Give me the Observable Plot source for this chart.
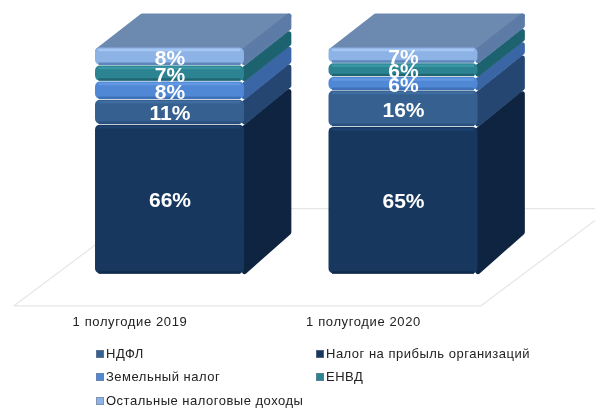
<!DOCTYPE html>
<html><head><meta charset="utf-8">
<script src="https://cdn.jsdelivr.net/npm/d3@7"></script>
<script src="https://cdn.jsdelivr.net/npm/@observablehq/plot@0.6"></script>
<style>
html,body{margin:0;padding:0;background:#fff;overflow:hidden}
body{width:595px;height:408px;font-family:"Liberation Sans",Arial,sans-serif}
#chart svg{display:block;filter:blur(.45px)}
#chart [aria-label="x-axis tick label"] text{letter-spacing:.62px}
#legend{position:relative;height:73px;font-size:13px;letter-spacing:.5px;color:#222;filter:blur(.25px)}
.it{position:absolute;white-space:nowrap;line-height:15px}
.sw{display:inline-block;width:8px;height:8px;margin-right:2px;vertical-align:0;box-sizing:border-box;border:1px solid rgba(120,130,150,.6)}
</style></head><body>
<div id="chart"></div><div id="legend"></div>
<script>
const categories = ["1 полугодие 2019", "1 полугодие 2020"];
const seriesNames = ["Налог на прибыль организаций", "НДФЛ", "Земельный налог", "ЕНВД", "Остальные налоговые доходы"];
const values2019 = [66, 11, 8, 7, 8];
const values2020 = [65, 16, 6, 6, 7];
const frontColors = ["#17375e", "#35608f", "#5088d6", "#2c8493", "#8cb2e6"];
const sideColors  = ["#0f2440", "#264672", "#3a66a6", "#1d636f", "#5c7ba6"];
const edgeLight   = ["#1d4270", "#3f6d9f", "#6298e2", "#3a97a5", "#a5c6f1"];
const edgeDark    = ["#112b4c", "#29507c", "#3f71b8", "#1f6672", "#5f86ba"];
const topColor = "#6c89b0";
const legendOrder = [1, 0, 2, 3, 4];

// layout in scale units
const W = 595, H = 335;
const barW = 0.638, depthX = 0.19, gap = 0.2, sideInset = 1.1;
const depthY = y => 17.3 - 0.021 * y;
const floorFront = -13.8, floorBack = 29, floorLeft = -0.668, floorWidth = 2.0, floorSkew = 0.555;

const cols = [values2019, values2020];
const segs = [];
cols.forEach((vals, c) => {
  let acc = 0;
  vals.forEach((v, s) => {
    segs.push({c, s, y0: acc + gap, y1: acc + v - gap,
      x1: c - barW / 2, x2: c + barW / 2, label: v + "%", mid: acc + v / 2, small: v < 12,
      front: frontColors[s], side: sideColors[s], light: edgeLight[s], dark: edgeDark[s]});
    acc += v;
  });
});
const poly = (pts, id, col) => [...pts, pts[0]].map(([x, y]) => ({x, y, id, col}));
const sides = segs.flatMap((d, i) => {
  const a = d.y0 + sideInset, b = d.y1 - sideInset;
  return poly([[d.x2, a], [d.x2 + depthX, a + depthY(a)], [d.x2 + depthX, b + depthY(b)], [d.x2, b]], i, d.side);
});
const tops = segs.filter(d => d.s === seriesNames.length - 1).flatMap((d, i) => {
  const b = d.y1 - sideInset;
  return poly([[d.x1 + 0.01, b], [d.x2, b], [d.x2 + depthX, b + depthY(b)], [d.x1 + depthX + 0.01, b + depthY(b)]], i, topColor);
});
const floor = [
  [floorLeft, floorFront], [floorLeft + floorWidth, floorFront],
  [floorLeft + floorWidth + floorSkew, floorBack], [floorLeft + floorSkew, floorBack],
  [floorLeft, floorFront]
].map(([x, y]) => ({x, y}));

const plot = Plot.plot({
  width: W, height: H,
  marginLeft: 169.5, marginRight: W - 403, marginTop: 47, marginBottom: 61,
  x: {domain: [0, 1], axis: null},
  y: {domain: [0, 100], axis: null},
  color: {type: "identity"},
  marks: [
    Plot.line(floor, {x: "x", y: "y", stroke: "#e6e6e6", strokeWidth: 1.2}),
    Plot.line(tops, {x: "x", y: "y", z: "id", fill: "col", stroke: "col", strokeWidth: 5, strokeLinejoin: "round"}),
    Plot.line(sides, {x: "x", y: "y", z: "id", fill: "col", stroke: "col", strokeWidth: 5, strokeLinejoin: "round"}),
    Plot.rect(segs, {x1: "x1", x2: "x2", y1: "y0", y2: "y1", fill: "front", rx: 5}),
    Plot.ruleY(segs, {x1: d => d.x1 + 0.015, x2: d => d.x2 - 0.015, y: "y1", stroke: "light", strokeWidth: 2.5, dy: 2}),
    Plot.ruleY(segs, {x1: d => d.x1 + 0.015, x2: d => d.x2 - 0.015, y: "y0", stroke: "dark", strokeWidth: 2.5, dy: -1.5}),
    Plot.text(segs.filter(d => d.small), {x: "c", y: "mid", text: "label", fill: "white", fontSize: 21, fontWeight: "bold",
      fontFamily: "Liberation Sans", dy: 1.5, textAnchor: "middle"}),
    Plot.text(segs.filter(d => !d.small), {x: "c", y: "mid", text: "label", fill: "white", fontSize: 21, fontWeight: "bold",
      fontFamily: "Liberation Sans", dy: 1, textAnchor: "middle"}),
    Plot.axisX({ticks: [0, 1], tickFormat: i => categories[i], tickSize: 0, tickPadding: 42, dx: -40,
      fontSize: 13, fontFamily: "Liberation Sans", fill: "#222", anchor: "bottom", label: null})
  ]
});
plot.style.background = "#fff";
plot.style.overflow = "hidden";
document.getElementById("chart").appendChild(plot);

const legend = document.getElementById("legend");
const lx = [96, 316], ly = [11, 34, 58];
legendOrder.forEach((s, i) => {
  const el = document.createElement("div");
  el.className = "it";
  el.style.left = lx[i % 2] + "px";
  el.style.top = ly[Math.floor(i / 2)] + "px";
  el.innerHTML = `<span class="sw" style="background:${frontColors[s]}"></span>${seriesNames[s]}`;
  legend.appendChild(el);
});
</script>
</body></html>
